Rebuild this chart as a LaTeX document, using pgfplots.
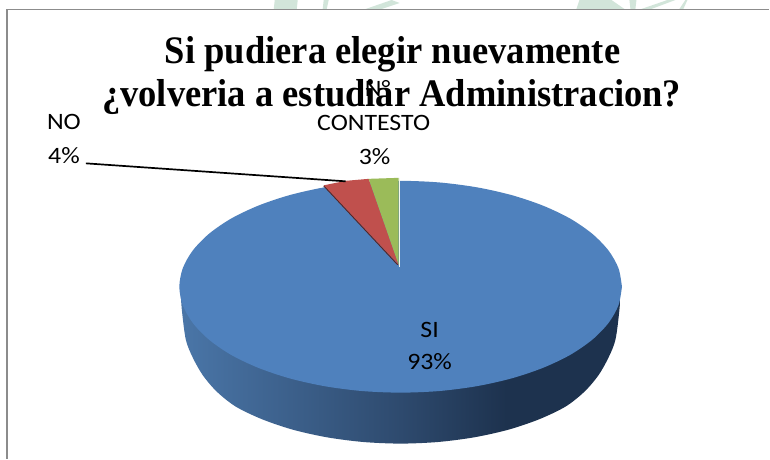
\documentclass[border=0pt]{standalone}
\usepackage{pgfplots}
\pgfplotsset{compat=1.18}
\usepackage{fontspec}
\setmainfont{Carlito}
\newfontfamily\titlefont{Liberation Serif}
\definecolor{piblue}{HTML}{4F81BD}
\definecolor{pired}{HTML}{C0504D}
\definecolor{pigreen}{HTML}{9BBB59}
\definecolor{frame}{HTML}{8C8C8C}
\definecolor{wm}{HTML}{D2E5DA}
\definecolor{sd0}{HTML}{4A76A8}
\definecolor{sd1}{HTML}{2E4A6E}
\definecolor{sd2}{HTML}{1D324E}
\pgfdeclarehorizontalshading{sideblue}{100bp}{
 color(0bp)=(sd0); color(25bp)=(sd0); color(50bp)=(sd1); color(62bp)=(sd2); color(75bp)=(sd2); color(100bp)=(sd2)}
\tikzset{
  ttl/.style={font=\titlefont\bfseries\fontsize{39}{39}\selectfont, anchor=base, xscale=.937},
  lbl/.style={font=\fontsize{23.5}{23.5}\selectfont, anchor=base, xscale=1.1}}
\begin{document}
\begin{tikzpicture}
\begin{axis}[
  scale only axis, width=770pt, height=459pt,
  xmin=0, xmax=770, ymin=0, ymax=459, y dir=reverse,
  hide axis, clip=false]
% full canvas
\addplot[fill=white, draw=none, no markers] coordinates {(0,0) (770,0) (770,459) (0,459)} -- cycle;
% watermark remnants
\addplot[fill=wm, draw=none, no markers] coordinates {(275,0) (298,0) (297,9) (274,9)} -- cycle;
\addplot[fill=wm, draw=none, no markers] coordinates {(324,0) (329,0) (327,9) (323,9)} -- cycle;
\addplot[fill=wm, draw=none, no markers] coordinates {(366,9) (392,0) (400,3) (382,9)} -- cycle;
\addplot[fill=wm, draw=none, no markers] coordinates {(580,0) (612,0) (625,9) (577,9)} -- cycle;
\addplot[fill=wm, draw=none, no markers] coordinates {(630,0) (637,0) (636,9) (631,9)} -- cycle;
\addplot[fill=wm, draw=none, no markers] coordinates {(642,9) (668,0) (676,0) (652,9)} -- cycle;
\addplot[fill=wm, draw=none, no markers] coordinates {(680,9) (686,0) (688,0) (684,9)} -- cycle;
% frame
\addplot[frame, line width=1.4pt, no markers] coordinates {(7,459) (7,9.5) (770,9.5)};
% side wall
\addplot[draw=none, shading=sideblue, smooth, no markers] coordinates {
 (180.5,287) (182,310) (186,340) (193,358) (203,375.6) (217,392) (236,407) (262.5,419.7)
 (293.2,430.1) (327.3,437.7) (363.6,442.4) (401,444) (438.4,442.4) (474.7,437.7) (508.8,430.1)
 (539.5,419.7) (566,407) (585,392) (599,375.6) (609,358) (616,340) (620,310) (621.5,287)} -- cycle;
% top face: SI 93
\addplot[fill=piblue, draw=none, smooth, no markers] coordinates {
 (622.5,287) (619.1,268.6) (609.1,250.8) (592.8,234) (570.7,218.8) (543.4,205.8) (511.8,195.2)
 (476.8,187.4) (439.5,182.6) (401,181) (362.5,182.6) (325.2,187.4) (290.2,195.2) (258.6,205.8)
 (231.3,218.8) (209.2,234) (192.9,250.8) (182.9,268.6) (179.5,287) (182.9,305.4) (192.9,323.2)
 (209.2,340) (231.3,355.2) (258.6,368.2) (290.2,378.8) (325.2,386.6) (362.5,391.4) (401,393)
 (439.5,391.4) (476.8,386.6) (511.8,378.8) (543.4,368.2) (570.7,355.2) (592.8,340) (609.1,323.2)
 (619.1,305.4) (622.5,287)} -- cycle;
% NO 4
\addplot[fill=pired, draw=none, no markers] coordinates {(399,265) (324,185.5) (346,181) (369,179)} -- cycle;
% CONTESTO 3
\addplot[fill=pigreen, draw=none, no markers] coordinates {(399,265) (369,179) (399,178)} -- cycle;
\addplot[color=white!90!pigreen, line width=1.2pt, no markers] coordinates {(400,178) (400,267)};
\addplot[color=pired!45!black, line width=.9pt, no markers] coordinates {(324,186) (398,265)};
% leader
\addplot[black, line width=1.7pt, no markers] coordinates {(86,163.5) (346,181.5)};
% labels
\node[ttl] at (axis cs:393,64) {Si pudiera elegir nuevamente};
\node[ttl] at (axis cs:392,107) {¿volveria a estudiar Administracion?};
\node[lbl] at (axis cs:378,97) {N°};
\node[lbl] at (axis cs:374,131) {CONTESTO};
\node[lbl] at (axis cs:375,165) {3\%};
\node[lbl] at (axis cs:64,130) {NO};
\node[lbl] at (axis cs:64,164) {4\%};
\node[lbl] at (axis cs:430,338) {SI};
\node[lbl] at (axis cs:430,370) {93\%};
\end{axis}
\end{tikzpicture}
\end{document}
